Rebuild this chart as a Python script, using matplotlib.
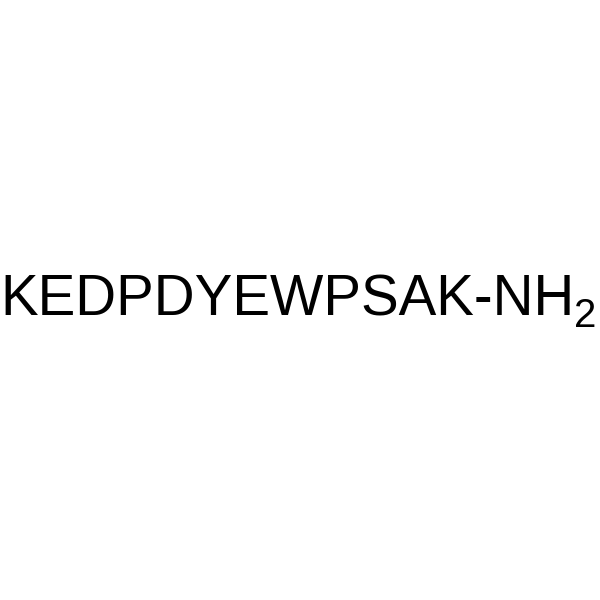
import matplotlib
matplotlib.use("Agg")
import matplotlib.pyplot as plt

main_text = "KEDPDYEWPSAK-NH"
sub_text = "2"

fig = plt.figure(figsize=(6, 6), dpi=100)
fig.patch.set_facecolor("white")
ax = fig.add_axes([0, 0, 1, 1])
ax.set_axis_off()
ax.set_xlim(0, 600)
ax.set_ylim(600, 0)

t = ax.text(0, 315, main_text, fontsize=40.7, family="Liberation Sans",
            ha="left", va="baseline", color="black")
ax.annotate(sub_text, xy=(1, 0), xycoords=t, xytext=(-0.5, 0), textcoords="offset points",
            fontsize=29, family="Liberation Sans", ha="left", va="baseline", color="black")
fig.savefig("out.png", dpi=100, facecolor="white")
